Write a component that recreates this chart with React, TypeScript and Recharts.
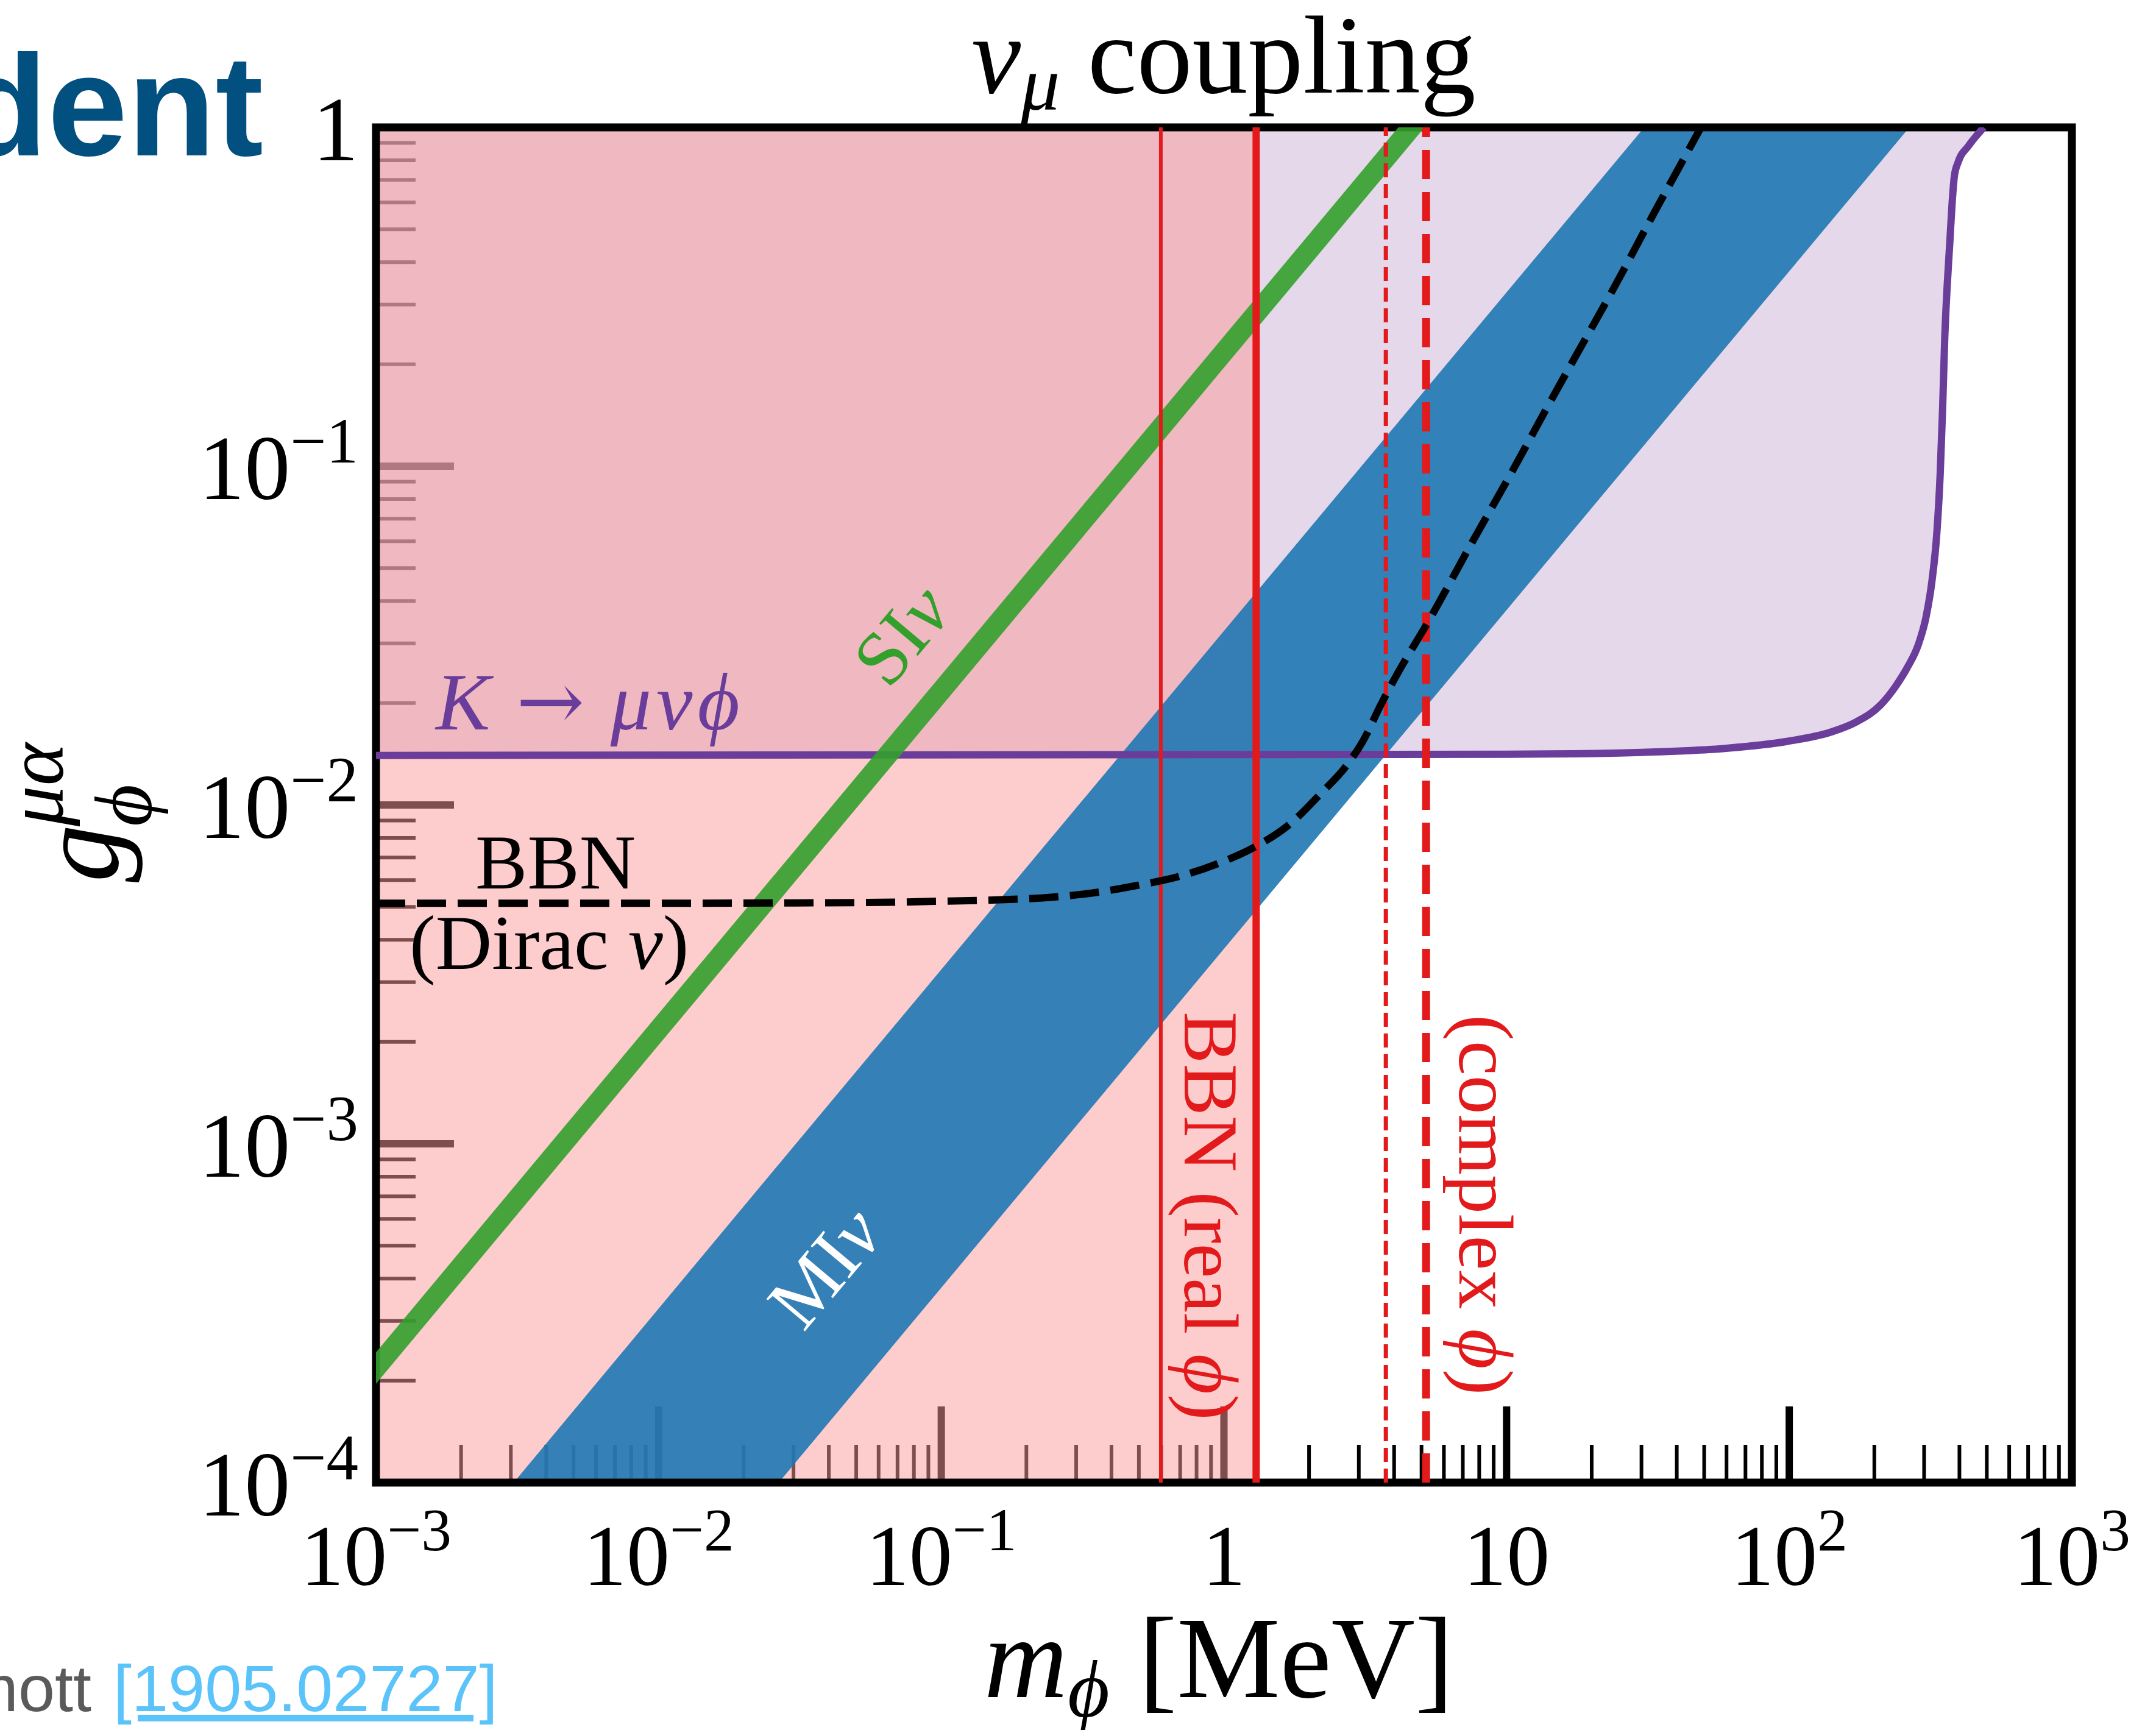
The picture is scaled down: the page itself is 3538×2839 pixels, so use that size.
import React from "react";
import { ComposedChart, Area, Line, XAxis, YAxis, ReferenceArea } from "recharts";

const W = 3538;
const H = 2839;
const MARGIN = { top: 209, right: 138, bottom: 206, left: 417 };
const SERIF = "'Liberation Serif', 'Times New Roman', serif";
const SANS = "'Liberation Sans', Arial, sans-serif";

// K -> mu nu phi bound (purple), excluded above the curve
const kMass = [0.001, 10, 30, 60, 98, 140, 173, 210, 237, 262, 286, 305, 320, 333, 342, 349, 355, 362, 370, 377, 384, 396, 430, 488];
const kCoupling = [0.014, 0.01412, 0.0143, 0.0147, 0.0154, 0.0164, 0.0176, 0.0197, 0.0223, 0.0255, 0.0297, 0.036, 0.046, 0.064, 0.095, 0.15, 0.24, 0.34, 0.46, 0.6, 0.72, 0.79, 0.88, 1.0];

// BBN (real phi) excluded mass range
const bbnRealMass = [0.001, 1.3];

// MI nu band edges
const miMass = [0.00307, 0.0266, 30.7, 266];
const miLow = [1e-4, 1e-4, 0.1155, 1];
const miHigh = [1e-4, 8.7e-4, 1, 1];

// SI nu line
const siMass = [0.0005, 10];
const siCoupling = [0.000109, 2.17];

// BBN (Dirac nu) dashed curve
const diracMass = [0.001, 0.01, 0.05, 0.1, 0.229, 0.354, 0.498, 0.678, 0.95, 1.29, 1.71, 2.2, 2.71, 3.1, 3.59, 4.03, 5.37, 7.5, 10.5, 13.6, 17.3, 23.7, 32.6, 44.8, 50];
const diracCoupling = [0.00513, 0.00513, 0.00515, 0.0052, 0.00532, 0.00552, 0.0058, 0.00612, 0.00671, 0.00753, 0.00878, 0.0108, 0.01305, 0.01542, 0.01976, 0.0237, 0.0356, 0.059, 0.097, 0.144, 0.2066, 0.33, 0.542, 0.88, 1.04];

// vertical BBN limits: real phi (thin, thick) and complex phi (thin, thick)
const realPhiMass = [0.598, 1.3];
const complexPhiMass = [3.74, 5.19];

// axis ticks
const xMajorTicks = [1e-3, 1e-2, 1e-1, 1, 10, 100, 1000];
const xMajorBase = ["10", "10", "10", "1", "10", "10", "10"];
const xMajorExp = ["\u22123", "\u22122", "\u22121", "", "", "2", "3"];
const yMajorTicks = [1e-4, 1e-3, 1e-2, 1e-1, 1];
const yMajorBase = ["10", "10", "10", "10", "1"];
const yMajorExp = ["\u22124", "\u22123", "\u22122", "\u22121", ""];

const logTicks = (from: number, to: number) => {
  const out: number[] = [];
  for (let e = from; e < to; e++)
    for (let k = 1; k < 10; k++) out.push(Number((k * Math.pow(10, e)).toPrecision(3)));
  out.push(Math.pow(10, to));
  return out;
};
const xTicks = logTicks(-3, 3);
const yTicks = logTicks(-4, 0);

const kData = kMass.map((m, i) => ({ m, g: kCoupling[i], band: [kCoupling[i], 1] }));
const bbnRealData = bbnRealMass.map((m) => ({ m, band: [1e-4, 1] }));
const miData = miMass.map((m, i) => ({ m, band: [miLow[i], miHigh[i]] }));
const siData = siMass.map((m, i) => ({ m, g: siCoupling[i] }));
const diracData = diracMass.map((m, i) => ({ m, g: diracCoupling[i] }));
const vertical = (m: number) => [{ m, g: 1e-4 }, { m, g: 1 }];

const findMajor = (list: number[], v: number) => list.findIndex((t) => Math.abs(t - v) <= t * 1e-6);

const TickText = ({ x, y, base, exp, anchor, size }: any) => (
  <text x={x} y={y} textAnchor={anchor} fontFamily={SERIF} fontSize={size} fill="#000">
    {base}
    {exp ? (
      <tspan dy={-size * 0.4} fontSize={size * 0.7}>
        {exp}
      </tspan>
    ) : null}
  </text>
);

const XTick = (props: any) => {
  const { x, y, payload } = props;
  const i = findMajor(xMajorTicks, payload.value);
  const major = i >= 0;
  return (
    <g>
      <line x1={x} x2={x} y1={y} y2={y - (major ? 125 : 62)} stroke="#000" strokeWidth={major ? 12 : 6} />
      {major && <TickText x={x} y={y + 168} base={xMajorBase[i]} exp={xMajorExp[i]} anchor="middle" size={142} />}
    </g>
  );
};

const YTick = (props: any) => {
  const { x, y, payload } = props;
  const i = findMajor(yMajorTicks, payload.value);
  const major = i >= 0;
  return (
    <g>
      <line x1={x} x2={x + (major ? 128 : 65)} y1={y} y2={y} stroke="#000" strokeWidth={major ? 12 : 6} />
      {major && <TickText x={x - 29} y={y + 54} base={yMajorBase[i]} exp={yMajorExp[i]} anchor="end" size={150} />}
    </g>
  );
};

const RED = "#E31A1C";
const PURPLE = "#6A3D9A";
const GREEN = "#33A02C";

const layer: React.CSSProperties = { position: "absolute", left: 0, top: 0 };

// shared log axes; the tick layer sits under the shaded regions
const axes = (withTicks: boolean) => [
  <XAxis
    key="x"
    dataKey="m"
    type="number"
    scale="log"
    domain={[1e-3, 1e3]}
    allowDataOverflow
    ticks={xTicks}
    interval={0}
    height={200}
    axisLine={false}
    tickLine={false}
    tickSize={0}
    tickMargin={0}
    tick={withTicks ? XTick : false}
  />,
  <YAxis
    key="y"
    dataKey="g"
    type="number"
    scale="log"
    domain={[1e-4, 1]}
    allowDataOverflow
    ticks={yTicks}
    interval={0}
    width={200}
    axisLine={false}
    tickLine={false}
    tickSize={0}
    tickMargin={0}
    tick={withTicks ? YTick : false}
  />,
];

export default function App() {
  return (
    <div style={{ ...layer, width: W, height: H, background: "#fff", overflow: "hidden" }}>
      <div style={layer}>
        <ComposedChart width={W} height={H} margin={MARGIN}>
          {axes(true)}
          <Line data={siData} dataKey="g" stroke="none" dot={false} activeDot={false} isAnimationActive={false} />
        </ComposedChart>
      </div>

      <div style={layer}>
        <ComposedChart width={W} height={H} margin={MARGIN}>
          {axes(false)}

          {/* shaded exclusions */}
          <Area data={kData} dataKey="band" type="monotone" fill="#CAB2D6" fillOpacity={0.5} stroke="none" isAnimationActive={false} />
          <Area data={bbnRealData} dataKey="band" type="linear" fill="#FB9A99" fillOpacity={0.5} stroke="none" isAnimationActive={false} />
          <Line data={kData} dataKey="g" type="monotone" stroke={PURPLE} strokeWidth={12} dot={false} activeDot={false} isAnimationActive={false} />

          {/* MI nu band and SI nu line */}
          <Area data={miData} dataKey="band" type="linear" fill="#1F78B4" fillOpacity={0.9} stroke="none" isAnimationActive={false} />
          <Line data={siData} dataKey="g" type="linear" stroke={GREEN} strokeOpacity={0.9} strokeWidth={33} dot={false} activeDot={false} isAnimationActive={false} />

          {/* BBN limits on the mass */}
          <Line data={vertical(realPhiMass[0])} dataKey="g" type="linear" stroke={RED} strokeWidth={6} dot={false} activeDot={false} isAnimationActive={false} />
          <Line data={vertical(realPhiMass[1])} dataKey="g" type="linear" stroke={RED} strokeWidth={12} dot={false} activeDot={false} isAnimationActive={false} />
          <Line data={vertical(complexPhiMass[0])} dataKey="g" type="linear" stroke={RED} strokeWidth={7} strokeDasharray="23 11" dot={false} activeDot={false} isAnimationActive={false} />
          <Line data={vertical(complexPhiMass[1])} dataKey="g" type="linear" stroke={RED} strokeWidth={13} strokeDasharray="48 21" dot={false} activeDot={false} isAnimationActive={false} />

          <Line data={diracData} dataKey="g" type="monotone" stroke="#000" strokeWidth={12} strokeDasharray="48 19" dot={false} activeDot={false} isAnimationActive={false} />

          {/* plot frame */}
          <ReferenceArea x1={1e-3} x2={1e3} y1={1e-4} y2={1} fill="none" fillOpacity={0} stroke="#000" strokeWidth={13} />
        </ComposedChart>
      </div>

      <svg width={W} height={H} style={{ ...layer, pointerEvents: "none" }}>
        <text x={432} y={255} textAnchor="end" fontFamily={SANS} fontWeight={700} fontSize={236} fill="#02507F">
          dent
        </text>

        <text x={2008} y={152} textAnchor="middle" fontFamily={SERIF} fontSize={182} fill="#000">
          <tspan fontStyle="italic">ν</tspan>
          <tspan fontStyle="italic" fontSize={128} dy={28}>μ</tspan>
          <tspan dy={-28}> coupling</tspan>
        </text>

        <text x={2000} y={2785} textAnchor="middle" fontFamily={SERIF} fontSize={190} fill="#000">
          <tspan fontStyle="italic">m</tspan>
          <tspan fontStyle="italic" fontSize={133} dy={32}>ϕ</tspan>
          <tspan dy={-32}> [MeV]</tspan>
        </text>

        <text transform="translate(193,1448) rotate(-90)" fontFamily={SERIF} fontSize={190} fontStyle="italic" fill="#000">
          g
          <tspan x={92} y={55} fontSize={133}>ϕ</tspan>
          <tspan x={92} y={-90} fontSize={133}>μα</tspan>
        </text>

        <text x={715} y={1197} fontFamily={SERIF} fontSize={134} fill={PURPLE}>
          <tspan fontStyle="italic">K</tspan>
          <tspan fontFamily="'DejaVu Serif', serif"> → </tspan>
          <tspan fontStyle="italic" letterSpacing={8}>μνϕ</tspan>
        </text>

        <text x={780} y={1458} fontFamily={SERIF} fontSize={128} fill="#000">BBN</text>
        <text x={672} y={1590} fontFamily={SERIF} fontSize={128} fill="#000">
          (Dirac <tspan fontStyle="italic">ν</tspan>)
        </text>

        <text transform="translate(1944,1660) rotate(90)" fontFamily={SERIF} fontSize={128} fill={RED}>
          BBN (real <tspan fontStyle="italic">ϕ</tspan>)
        </text>
        <text transform="translate(2395,1665) rotate(90)" fontFamily={SERIF} fontSize={128} fill={RED}>
          (complex <tspan fontStyle="italic">ϕ</tspan>)
        </text>

        <text transform="translate(1512,1069) rotate(-50)" textAnchor="middle" fontFamily={SERIF} fontSize={126} fill={GREEN}>
          SI<tspan fontStyle="italic">ν</tspan>
        </text>
        <text transform="translate(1386,2107) rotate(-50)" textAnchor="middle" fontFamily={SERIF} fontSize={126} fill="#fff">
          MI<tspan fontStyle="italic">ν</tspan>
        </text>

        <text x={150} y={2808} textAnchor="end" fontFamily={SANS} fontSize={108} fill="#5A5A5A">
          McDermott
        </text>
        <text x={186} y={2808} fontFamily={SANS} fontSize={108} fill="#5AC3FA" textDecoration="underline">
          [1905.02727]
        </text>
      </svg>
    </div>
  );
}
